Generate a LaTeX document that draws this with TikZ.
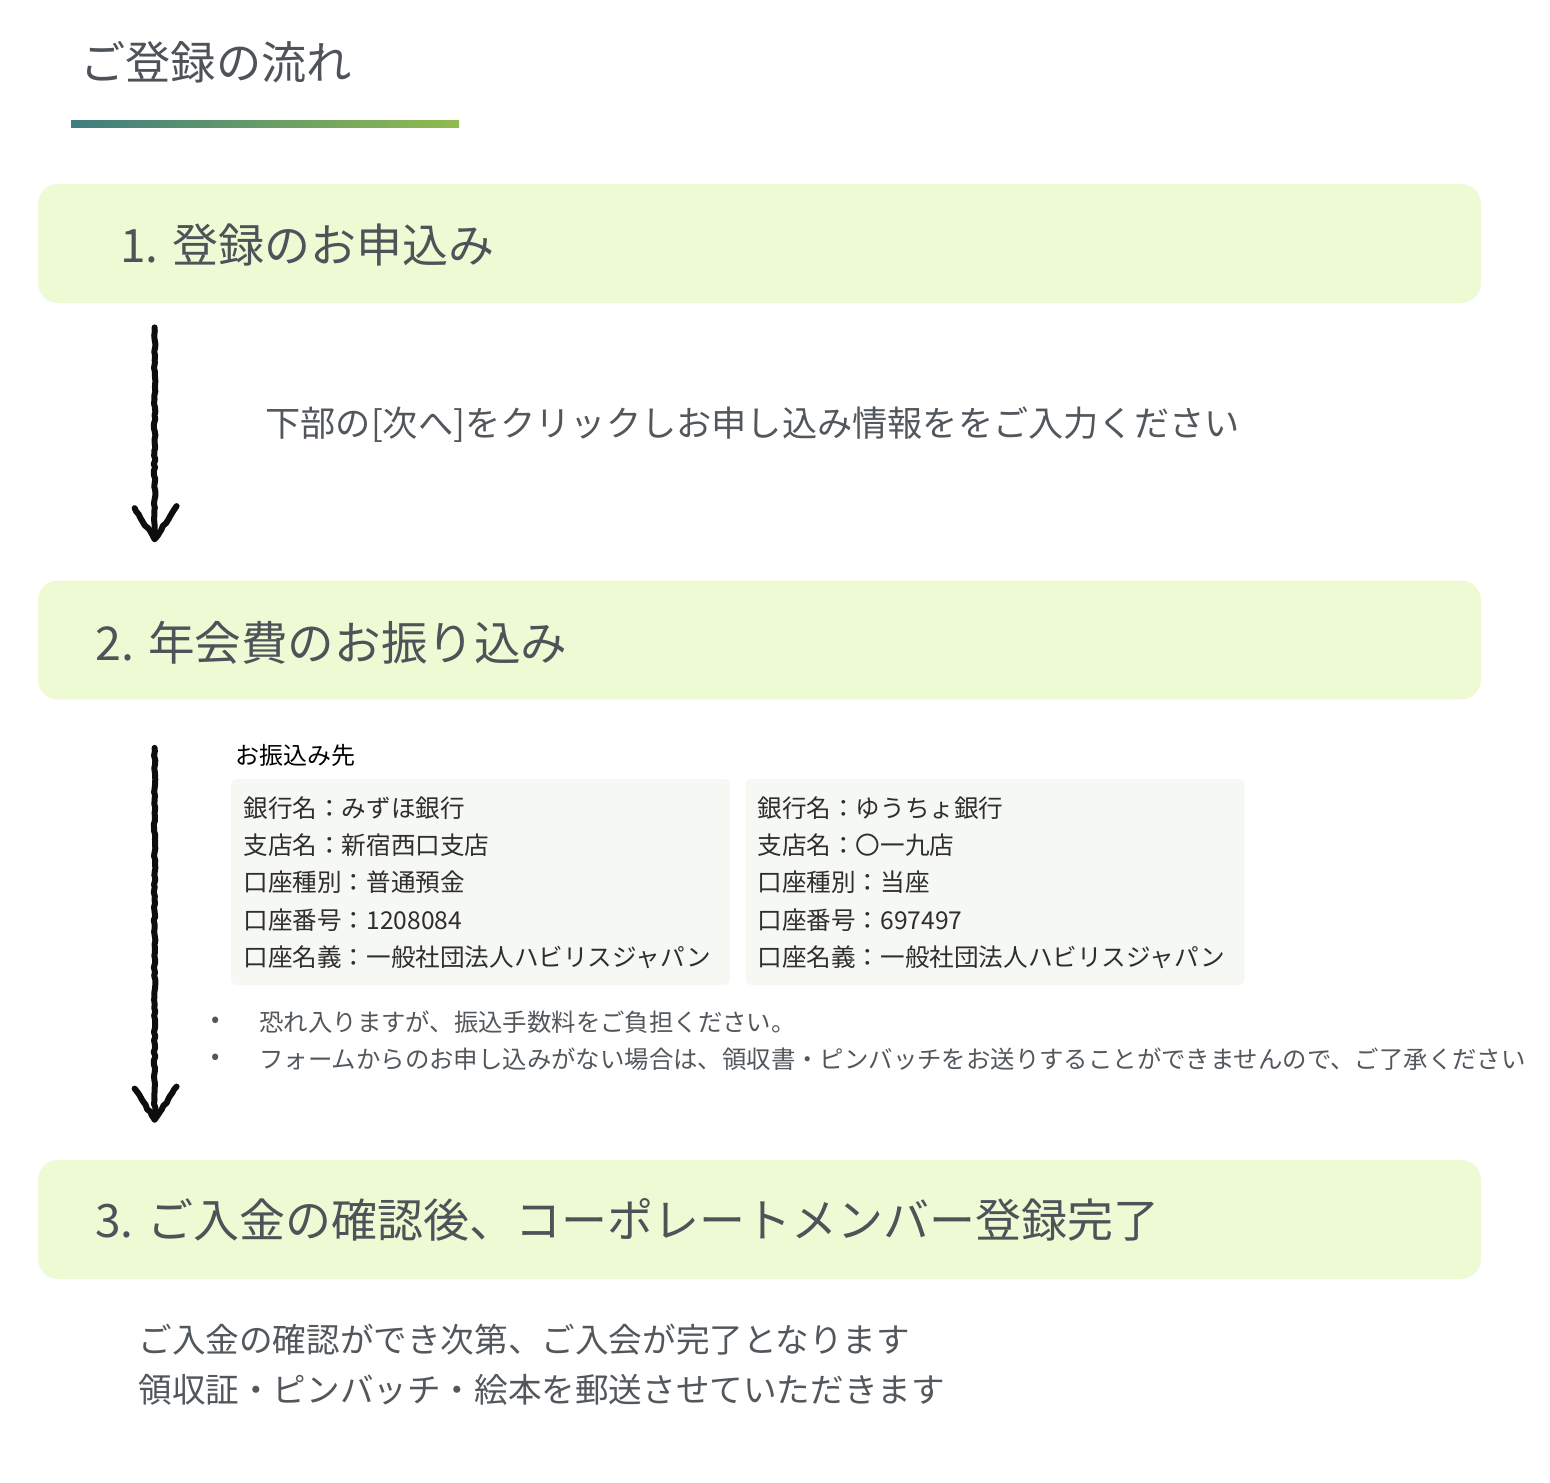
\documentclass[tikz,border=0pt]{standalone}
\usepackage{fontspec}
\setmainfont{Noto Sans CJK JP}
\usetikzlibrary{calc, positioning, decorations.pathmorphing}

\definecolor{headgray}{HTML}{4E5359}
\definecolor{bodygray}{HTML}{52575C}
\definecolor{stepfill}{HTML}{EEFAD3}
\definecolor{bankfill}{HTML}{F6F8F3}
\definecolor{barteal}{HTML}{3F7D80}
\definecolor{bargreen}{HTML}{90BB4E}

\begin{document}
\begin{tikzpicture}[
    x=0.5pt, y=-0.5pt,
    stepbox/.style={fill=stepfill, rounded corners=10pt, minimum width=721.5pt,
                    minimum height=59.5pt, inner sep=0pt},
    steptext/.style={anchor=west, inner sep=0pt, text=headgray,
                     font=\fontsize{23pt}{28pt}\selectfont},
    note/.style={anchor=west, inner sep=0pt, text=bodygray,
                 font=\fontsize{16.8pt}{22pt}\selectfont},
    bankbox/.style={fill=bankfill, rounded corners=3pt, minimum width=249.5pt,
                    minimum height=103pt, inner sep=0pt},
    banktext/.style={anchor=west, inner sep=0pt, text=black!82,
                     font=\fontsize{12.3pt}{16pt}\selectfont},
    bullet/.style={anchor=west, inner sep=0pt, text=bodygray,
                   font=\fontsize{12.2pt}{16pt}\selectfont},
    sketch/.style={draw=black!95, line width=3pt, line cap=round, line join=round,
                   decorate, decoration={random steps, segment length=2pt, amplitude=0.4pt}},
]
\pgfmathsetseed{7}
\useasboundingbox (0,0) rectangle (1550,1482);

% Title with gradient bar
\node[anchor=west, inner sep=0pt, text=headgray, font=\fontsize{22.6pt}{27pt}\selectfont]
    (title) at (80,62) {ご登録の流れ};
\shade[left color=barteal, right color=bargreen] (71,121) rectangle (459,128);

% Step boxes
\node[stepbox] (step1) at (759.5,243.5) {};
\node[stepbox] (step2) at (759.5,640) {};
\node[stepbox] (step3) at (759.5,1219.5) {};

\node[steptext] (step1txt) at (120,245) {1. 登録のお申込み};
\node[steptext, font=\fontsize{23.3pt}{28pt}\selectfont] (step2txt) at (95,643) {2. 年会費のお振り込み};
\node[steptext] (step3txt) at (95,1220) {3. ご入金の確認後、コーポレートメンバー登録完了};

% Sketched arrows
\coordinate (arr1top) at ($(step1.south west)+(117,24)$);
\coordinate (arr1tip) at ($(step2.north west)+(117,-41)$);
\coordinate (arr2top) at ($(step2.south west)+(117,48)$);
\coordinate (arr2tip) at ($(step3.north west)+(117,-40)$);
\draw[sketch] (arr1top) -- (arr1tip);
\draw[sketch] ($(arr1tip)+(-20,-31)$) -- (arr1tip) -- ($(arr1tip)+(22,-33)$);
\draw[sketch] (arr2top) -- (arr2tip);
\draw[sketch] ($(arr2tip)+(-20,-31)$) -- (arr2tip) -- ($(arr2tip)+(22,-33)$);

% Step 1 note
\node[note, font=\fontsize{17.6pt}{22pt}\selectfont] (note1) at (265,425)
    {下部の[次へ]をクリックしお申し込み情報ををご入力ください};

% Bank accounts
\node[anchor=west, inner sep=0pt, font=\fontsize{12pt}{16pt}\selectfont]
    (banktitle) at (235,755) {お振込み先};
\node[bankbox] (mizuho) at (480.5,882) {};
\node[bankbox] (yucho) at (995,882) {};
\foreach \ln [count=\i from 0] in {銀行名：みずほ銀行, 支店名：新宿西口支店, 口座種別：普通預金,
        口座番号：1208084, 口座名義：一般社団法人ハビリスジャパン}
    \node[banktext] (mizuho\i) at (243,808+37.3*\i) {\ln};
\foreach \ln [count=\i from 0] in {銀行名：ゆうちょ銀行, 支店名：〇一九店, 口座種別：当座,
        口座番号：697497, 口座名義：一般社団法人ハビリスジャパン}
    \node[banktext] (yucho\i) at (757,808+37.3*\i) {\ln};

% Notes on transfer
\node[bullet] (dot1) at (211,1022) {•};
\node[bullet] (dot2) at (211,1059) {•};
\node[bullet] (fee) at (259,1022) {恐れ入りますが、振込手数料をご負担ください。};
\node[bullet] (form) at (259,1059) {フォームからのお申し込みがない場合は、領収書・ピンバッチをお送りすることができませんので、ご了承ください};

% Step 3 notes
\node[note] (note3a) at (138,1340) {ご入金の確認ができ次第、ご入会が完了となります};
\node[note] (note3b) at (138,1390) {領収証・ピンバッチ・絵本を郵送させていただきます};
\end{tikzpicture}
\end{document}
